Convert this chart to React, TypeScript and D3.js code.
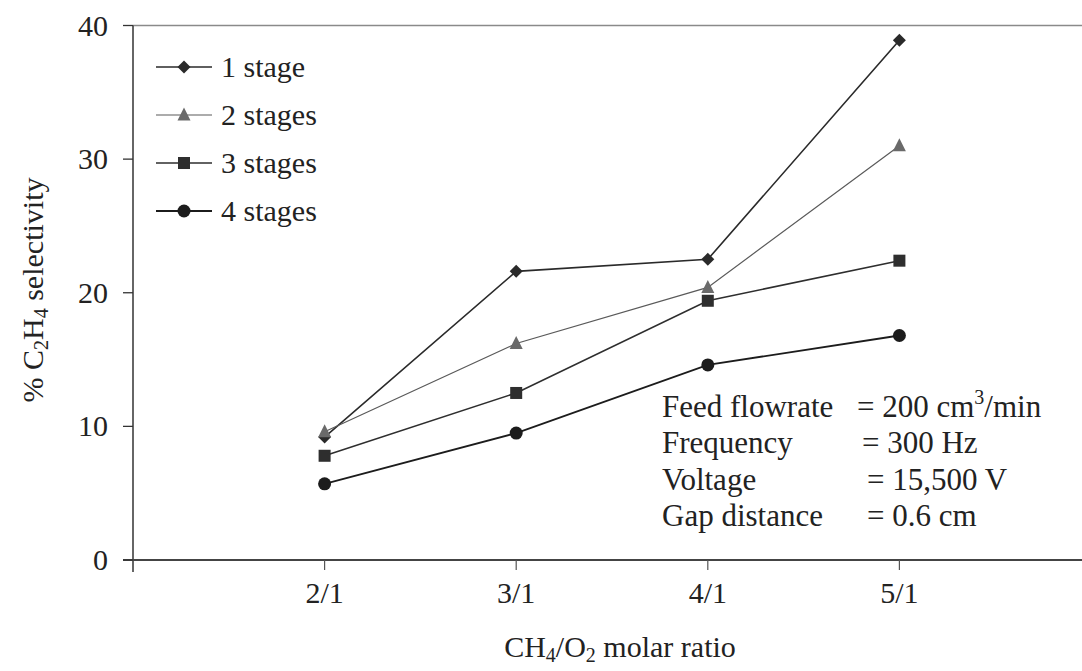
import React from "react";
import * as d3 from "d3";

// CH4/O2 molar ratios (blank slots pad both ends of the category axis)
const categories = ["", "2/1", "3/1", "4/1", "5/1", " "];
const ratios = ["2/1", "3/1", "4/1", "5/1"];

// % C2H4 selectivity for each number of plasma stages
const oneStage = [9.2, 21.6, 22.5, 38.9];
const twoStages = [9.6, 16.2, 20.4, 31.0];
const threeStages = [7.8, 12.5, 19.4, 22.4];
const fourStages = [5.7, 9.5, 14.6, 16.8];

const seriesNames = ["1 stage", "2 stages", "3 stages", "4 stages"];
const yTicks = [0, 10, 20, 30, 40];

const W = 1082;
const H = 671;
const FONT = "'Liberation Serif', 'Times New Roman', serif";

type Marker = "diamond" | "triangle" | "square" | "circle";

const seriesList: { name: string; values: number[]; marker: Marker; color: string; width: number }[] = [
  { name: seriesNames[0], values: oneStage, marker: "diamond", color: "#2a2a2a", width: 1.6 },
  { name: seriesNames[1], values: twoStages, marker: "triangle", color: "#5a5a5a", width: 1.2 },
  { name: seriesNames[2], values: threeStages, marker: "square", color: "#2e2e2e", width: 1.6 },
  { name: seriesNames[3], values: fourStages, marker: "circle", color: "#1c1c1c", width: 1.8 },
];

function MarkerShape({ type, x, y, color }: { type: Marker; x: number; y: number; color: string }) {
  if (type === "diamond") {
    const s = 6.5;
    return <path d={`M${x},${y - s}L${x + s},${y}L${x},${y + s}L${x - s},${y}Z`} fill={color} />;
  }
  if (type === "triangle") {
    const s = 6.5;
    return <path d={`M${x},${y - s - 1}L${x + s},${y + s - 1}L${x - s},${y + s - 1}Z`} fill="#6a6a6a" />;
  }
  if (type === "square") {
    const s = 6;
    return <rect x={x - s} y={y - s} width={2 * s} height={2 * s} fill={color} />;
  }
  return <circle cx={x} cy={y} r={6.5} fill={color} />;
}

export default function App() {
  const x = d3.scalePoint<string>().domain(categories).range([133, 1091]);
  const y = d3.scaleLinear().domain([0, 40]).range([560, 25.5]);
  const line = d3
    .line<number>()
    .x((_, i) => x(ratios[i]) as number)
    .y((d) => y(d));

  const legendRows = [67, 115, 163, 211];
  const notes = [
    { label: "Feed flowrate", eqX: 857, value: "= 200 cm", sup: "3", tail: "/min" },
    { label: "Frequency", eqX: 862, value: "= 300 Hz" },
    { label: "Voltage", eqX: 867, value: "= 15,500 V" },
    { label: "Gap distance", eqX: 867, value: "= 0.6 cm" },
  ];

  return (
    <svg width={W} height={H} style={{ position: "absolute", left: 0, top: 0, background: "#fff" }} fontFamily={FONT}>
      <rect width={W} height={H} fill="#fff" />
      {/* plot frame: top border and axes */}
      <line x1={133} x2={W} y1={25.5} y2={25.5} stroke="#8a8a8a" strokeWidth={1.5} />
      <line x1={133} x2={133} y1={25.5} y2={572} stroke="#333" strokeWidth={1.5} />
      <line x1={123} x2={W} y1={560} y2={560} stroke="#444" strokeWidth={1.8} />

      {/* y ticks */}
      {yTicks.map((t) => (
        <g key={t}>
          <line x1={123} x2={133} y1={y(t)} y2={y(t)} stroke="#333" strokeWidth={1.3} />
          <text x={108} y={y(t) + 10} textAnchor="end" fontSize={30} fill="#222">
            {t}
          </text>
        </g>
      ))}

      {/* x ticks */}
      {ratios.map((c) => (
        <g key={c}>
          <line x1={x(c)} x2={x(c)} y1={560} y2={570} stroke="#555" strokeWidth={1.2} />
          <text x={x(c)} y={603} textAnchor="middle" fontSize={30} fill="#222">
            {c}
          </text>
        </g>
      ))}

      {/* series */}
      {seriesList.map((s) => (
        <g key={s.name}>
          <path d={line(s.values) || ""} fill="none" stroke={s.color} strokeWidth={s.width} />
          {s.values.map((v, i) => (
            <MarkerShape key={i} type={s.marker} x={x(ratios[i]) as number} y={y(v)} color={s.color} />
          ))}
        </g>
      ))}

      {/* legend */}
      {seriesList.map((s, i) => (
        <g key={s.name}>
          <line x1={156} x2={212} y1={legendRows[i]} y2={legendRows[i]} stroke={s.color} strokeWidth={s.width} />
          <MarkerShape type={s.marker} x={184} y={legendRows[i]} color={s.color} />
          <text x={221} y={legendRows[i] + 10} fontSize={30} fill="#222">
            {s.name}
          </text>
        </g>
      ))}

      {/* operating conditions */}
      {notes.map((n, i) => (
        <g key={n.label} fontSize={31} fill="#222">
          <text x={662} y={417 + i * 36.3}>{n.label}</text>
          <text x={n.eqX} y={417 + i * 36.3}>
            {n.value}
            {n.sup ? (
              <tspan fontSize={20} dy={-13}>
                {n.sup}
              </tspan>
            ) : null}
            {n.tail ? <tspan dy={13}>{n.tail}</tspan> : null}
          </text>
        </g>
      ))}

      {/* axis titles */}
      <text x={620} y={657} textAnchor="middle" fontSize={30} fill="#222">
        CH<tspan fontSize={20} dy={5}>4</tspan>
        <tspan dy={-5}>/O</tspan>
        <tspan fontSize={20} dy={5}>2</tspan>
        <tspan dy={-5}> molar ratio</tspan>
      </text>
      <text transform="translate(43,290) rotate(-90)" textAnchor="middle" fontSize={30} fill="#222">
        % C<tspan fontSize={20} dy={5}>2</tspan>
        <tspan dy={-5}>H</tspan>
        <tspan fontSize={20} dy={5}>4</tspan>
        <tspan dy={-5}> selectivity</tspan>
      </text>
    </svg>
  );
}
